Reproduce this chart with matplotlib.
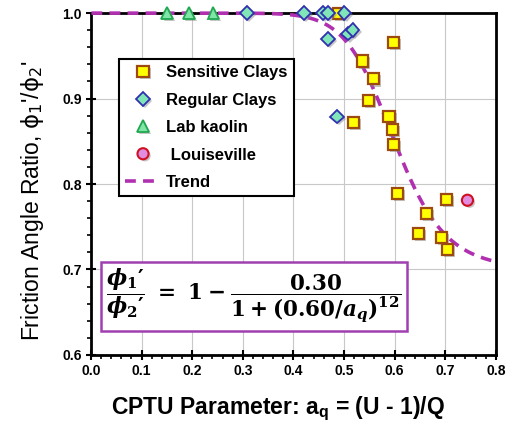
import matplotlib.pyplot as plt
import matplotlib.patheffects as pe
import numpy as np
from matplotlib.ticker import MultipleLocator

plt.rcParams['font.family'] = ['Liberation Sans', 'DejaVu Sans']
plt.rcParams['mathtext.fontset'] = 'custom'
plt.rcParams['mathtext.rm'] = 'DejaVu Serif:bold'
plt.rcParams['mathtext.it'] = 'DejaVu Serif:bold:italic'
plt.rcParams['mathtext.sf'] = 'Liberation Sans:bold'
plt.rcParams['mathtext.tt'] = 'DejaVu Sans'

# measured points
sens_aq = [0.489, 0.598, 0.536, 0.559, 0.548, 0.589, 0.518, 0.596, 0.598,
           0.605, 0.703, 0.663, 0.647, 0.693, 0.704]
sens_ratio = [1.000, 0.966, 0.944, 0.923, 0.898, 0.879, 0.872, 0.864, 0.846,
              0.789, 0.782, 0.766, 0.742, 0.737, 0.723]
reg_aq = [0.309, 0.421, 0.459, 0.469, 0.501, 0.469, 0.508, 0.517, 0.486]
reg_ratio = [1.000, 1.000, 1.000, 1.000, 1.000, 0.970, 0.976, 0.980, 0.879]
kaolin_aq = [0.151, 0.194, 0.242]
kaolin_ratio = [1.000, 1.000, 1.000]
louis_aq = [0.744]
louis_ratio = [0.781]

# trend: phi1'/phi2' = 1 - A / (1 + (B/aq)^N)
A, B, N = 0.30, 0.60, 12
trend_aq = np.linspace(0.001, 0.8, 300)
trend_ratio = 1 - A / (1 + (B / trend_aq) ** N)

fig = plt.figure(figsize=(5.08, 4.23), dpi=100)
ax = fig.add_axes([0.179, 0.161, 0.797, 0.808])

shadow = [pe.SimplePatchShadow(offset=(1.5, -1.5), shadow_rgbFace='0.55', alpha=0.5), pe.Normal()]

ax.plot(sens_aq, sens_ratio, 's', ms=8, mfc='#ffff00', mec='#9c4a10', mew=1.6,
        label='Sensitive Clays', clip_on=False, zorder=5, path_effects=shadow)
ax.plot(reg_aq, reg_ratio, 'D', ms=7, mfc='#80e6b8', mec='#3030b0', mew=1.3,
        label='Regular Clays', clip_on=False, zorder=5, path_effects=shadow)
ax.plot(kaolin_aq, kaolin_ratio, '^', ms=8.5, mfc='#80e6a8', mec='#20a850', mew=1.3,
        label='Lab kaolin', clip_on=False, zorder=5, path_effects=shadow)
ax.plot(louis_aq, louis_ratio, 'o', ms=8, mfc='#e08ce0', mec='#d01020', mew=1.5,
        label=' Louiseville', clip_on=False, zorder=5, path_effects=shadow)
ax.plot(trend_aq, trend_ratio, '--', color='#b030b0', lw=2.6, dashes=(3, 2),
        label='Trend', clip_on=False, zorder=4)

ax.set_xlim(0, 0.8)
ax.set_ylim(0.6, 1.0)
ax.xaxis.set_major_locator(MultipleLocator(0.1))
ax.xaxis.set_minor_locator(MultipleLocator(0.02))
ax.yaxis.set_major_locator(MultipleLocator(0.1))
ax.yaxis.set_minor_locator(MultipleLocator(0.02))
ax.xaxis.set_major_formatter(plt.FormatStrFormatter('%.1f'))
ax.yaxis.set_major_formatter(plt.FormatStrFormatter('%.1f'))
ax.grid(True, which='major', color='#c8c8c8', lw=0.8)
ax.set_axisbelow(True)
ax.tick_params(which='major', direction='inout', length=7, width=1.5, labelsize=10, pad=3)
ax.tick_params(which='minor', direction='out', length=3, width=1.2)
for lbl in ax.get_xticklabels() + ax.get_yticklabels():
    lbl.set_fontweight('bold')
for s in ax.spines.values():
    s.set_linewidth(2)
    s.set_zorder(3)

ax.set_xlabel(r'CPTU Parameter: a$_{\mathsf{q}}$ = (U - 1)/Q', fontsize=16.5,
              fontweight='bold')
ax.xaxis.set_label_coords(0.462, -0.118)
ax.set_ylabel(r"Friction Angle Ratio, $\mathtt{ϕ}_{\mathtt{1}}$'/$\mathtt{ϕ}_{\mathtt{2}}$'",
              fontsize=16.5)
ax.yaxis.set_label_coords(-0.111, 0.45)

leg = ax.legend(loc='upper left', bbox_to_anchor=(0.069, 0.865), fancybox=False,
                framealpha=1, edgecolor='black', fontsize=12, handlelength=2.2,
                borderpad=0.35, labelspacing=0.75, handletextpad=0.3, borderaxespad=0)
leg.get_frame().set_linewidth(1.5)
for t in leg.get_texts():
    t.set_fontweight('bold')

eq = r"$\dfrac{\phi_1\prime}{\phi_2\prime}\ =\ 1 - \dfrac{0.30}{1 + (0.60/a_q)^{12}}$"
ax.text(0.038, 0.172, eq, transform=ax.transAxes, fontsize=15.5, va='center', ha='left',
        zorder=6, bbox=dict(boxstyle='square,pad=0.25', fc='white', ec='#a040b0', lw=1.8))

fig.savefig('out.png', dpi=100)
